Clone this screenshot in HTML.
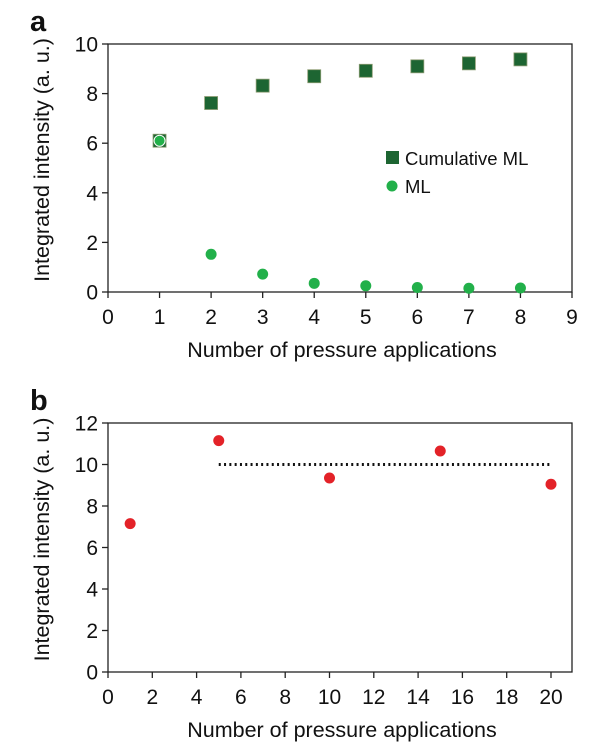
<!DOCTYPE html>
<html><head><meta charset="utf-8"><style>
body{margin:0;background:#fff;}
svg text{font-family:"Liberation Sans",sans-serif;fill:#111;}
</style></head><body>
<svg width="610" height="747" viewBox="0 0 610 747" xmlns="http://www.w3.org/2000/svg">
<g id="pa"></g>
<g id="pb"></g>
</svg>
<script>
const aX=[1,2,3,4,5,6,7,8];
const aCum=[6.1,7.62,8.32,8.7,8.92,9.1,9.22,9.38];
const aML=[6.1,1.52,0.72,0.35,0.25,0.18,0.15,0.16];
const aXTicks=[0,1,2,3,4,5,6,7,8,9];
const aYTicks=[0,2,4,6,8,10];
const bX=[1,5,10,15,20];
const bY=[7.15,11.15,9.35,10.65,9.05];
const bAvg=10;
const bAvgRange=[5,20];
const bXTicks=[0,2,4,6,8,10,12,14,16,18,20];
const bYTicks=[0,2,4,6,8,10,12];
const NS="http://www.w3.org/2000/svg";
function mk(p,t,at,txt){const e=document.createElementNS(NS,t);for(const k in at)e.setAttribute(k,at[k]);if(txt!==undefined)e.textContent=txt;p.appendChild(e);return e;}
function axes(g,o){
  const sx=v=>o.x0+(v-o.xmin)/(o.xmax-o.xmin)*(o.x1-o.x0);
  const sy=v=>o.y0-(v-o.ymin)/(o.ymax-o.ymin)*(o.y0-o.y1);
  const f=mk(g,'rect',{x:o.x0,y:o.y1,width:o.fr-o.x0,height:o.y0-o.y1,fill:'none',stroke:'#222','stroke-width':1.3});
  
  o.xt.forEach(v=>{const l=mk(g,'line',{x1:sx(v),x2:sx(v),y1:o.y0,y2:o.y0+6,stroke:'#222','stroke-width':1.3});
    
    const t=mk(g,'text',{x:sx(v),y:o.y0+32,'text-anchor':'middle','font-size':21},String(v));
    });
  o.yt.forEach(v=>{const l=mk(g,'line',{x1:o.x0-6,x2:o.x0,y1:sy(v),y2:sy(v),stroke:'#222','stroke-width':1.3});
    
    const t=mk(g,'text',{x:o.x0-10,y:sy(v)+7.5,'text-anchor':'end','font-size':21},String(v));
    });
  const xl=mk(g,'text',{x:(o.x0+o.fr)/2+2,y:o.y0+65,'text-anchor':'middle','font-size':21.5},'Number of pressure applications');
  
  const cy=(o.y0+o.y1)/2-8;
  const yl=mk(g,'text',{x:0,y:0,'text-anchor':'middle','font-size':21.5,transform:`translate(49,${cy}) rotate(-90)`},'Integrated intensity (a. u.)');
  
  const pl=mk(g,'text',{x:30,y:o.y1-13,'font-size':29,'font-weight':'bold'},o.lab);
  
  return {sx,sy};
}
const ga=document.getElementById('pa');
const A=axes(ga,{x0:108,x1:572,fr:572,xmin:0,xmax:9,y0:292,y1:44,ymin:0,ymax:10,xt:aXTicks,yt:aYTicks,lab:'a'});
aX.forEach((x,i)=>{const r=mk(ga,'rect',{x:A.sx(x)-6.5,y:A.sy(aCum[i])-6.5,width:13,height:13,fill:'#1d6532',stroke:'#8a9a70','stroke-width':0.8});
  });
aX.forEach((x,i)=>{const c=mk(ga,'circle',{cx:A.sx(x),cy:A.sy(aML[i]),r:5.5,fill:'#22b04a',stroke:i===0?'#fff':'none','stroke-width':1});
  });
const lg=mk(ga,'g',{});
const ls=mk(lg,'rect',{x:386,y:151,width:13,height:13,fill:'#1d6532'});
const lt1=mk(lg,'text',{x:405,y:165,'font-size':18.5},'Cumulative ML');
const lc=mk(lg,'circle',{cx:392,cy:186,r:5.5,fill:'#22b04a'});
const lt2=mk(lg,'text',{x:405,y:193,'font-size':18.5},'ML');

const gb=document.getElementById('pb');
const B=axes(gb,{x0:108,x1:551,fr:572,xmin:0,xmax:20,y0:672,y1:423,ymin:0,ymax:12,xt:bXTicks,yt:bYTicks,lab:'b'});
const avg=mk(gb,'line',{x1:B.sx(bAvgRange[0]),x2:B.sx(bAvgRange[1]),y1:B.sy(bAvg),y2:B.sy(bAvg),stroke:'#111','stroke-width':3,'stroke-dasharray':'2 3.3'});

bX.forEach((x,i)=>{const c=mk(gb,'circle',{cx:B.sx(x),cy:B.sy(bY[i]),r:5.5,fill:'#e32228'});
  });
</script>
</body></html>
